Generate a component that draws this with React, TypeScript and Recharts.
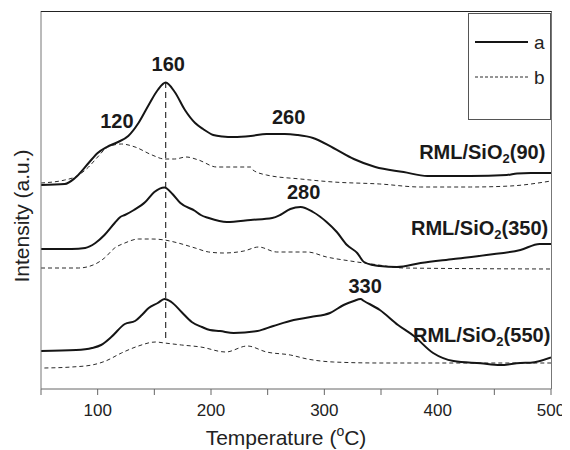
import React from 'react';
import { LineChart, Line, XAxis, YAxis, ReferenceLine, ReferenceDot } from 'recharts';

// [temperature °C, intensity (a.u.)]
const curveA90: number[][] = [
  [50, 204], [71, 205], [80, 211], [92, 226], [100, 236], [108, 242], [118, 247], [127, 253],
  [136, 266], [145, 284], [153, 299], [160, 306.5], [168, 297], [177, 279], [186, 266], [193, 260],
  [202, 254], [210, 252.5], [220, 252], [235, 253], [249, 255], [265, 255], [276, 254], [290, 251],
  [308, 241], [326, 230], [345, 222], [370, 217], [391, 213], [429, 213], [461, 214], [470, 215.5],
  [482, 216], [500, 216],
];
const curveB90: number[][] = [
  [50, 206], [71, 209], [80, 212], [92, 222], [100, 232], [109, 242], [121, 245], [133, 242],
  [148, 234], [159, 230], [168, 230], [178, 232], [189, 229], [205, 222], [235, 222], [237, 219],
  [249, 214], [279, 210], [308, 207], [349, 205], [385, 202], [429, 202], [464, 203], [500, 208],
];
const curveA350: number[][] = [
  [50, 140], [77, 140], [89, 141], [98, 146], [106, 154], [115, 166], [120, 172], [124, 174],
  [132, 179], [142, 187], [150, 197], [159, 201.5], [166, 195], [173, 186], [186, 178], [191, 174],
  [198, 171], [214, 167], [235, 169], [254, 171], [261, 174], [270, 180], [279, 182], [290, 177],
  [302, 167], [311, 157], [320, 144], [329, 136], [335, 127], [343, 124], [349, 123], [364, 122],
  [385, 126], [414, 130], [443, 134], [473, 139], [490, 145], [500, 145],
];
const curveB350: number[][] = [
  [50, 121], [83, 121], [98, 125], [106, 131], [115, 141], [124, 146], [136, 150], [148, 150],
  [159, 149], [171, 146], [186, 141], [198, 137], [211, 136], [229, 138], [242, 142], [258, 137],
  [285, 137], [302, 132], [323, 128], [345, 124.5], [370, 121], [500, 120],
];
const curveA550: number[][] = [
  [50, 38], [81, 39], [95, 41], [103, 44], [112, 52], [124, 65], [133, 68], [139, 74], [145, 81],
  [153, 86], [159, 90], [165, 87], [174, 77], [183, 67], [192, 62], [199, 59], [208, 58], [220, 56],
  [241, 58], [255, 63], [273, 69], [288, 72], [305, 76], [317, 84], [326, 88], [332, 90], [335, 88],
  [349, 79], [365, 64], [379, 53], [396, 36], [414, 28], [438, 25.7], [455, 24], [473, 26],
  [482, 26.3], [500, 31.5],
];
const curveB550: number[][] = [
  [53, 21], [77, 22], [95, 24], [107, 28], [121, 36], [136, 43], [151, 47], [159, 46], [174, 44],
  [191, 42], [213, 37], [232, 43], [249, 37], [270, 34], [285, 30], [308, 27], [349, 26], [500, 26],
];

const xTicks = [50, 100, 150, 200, 250, 300, 350, 400, 450, 500];
const peakLabels = [
  { t: 162.3, v: 325, text: '160' },
  { t: 117, v: 268, text: '120' },
  { t: 268.5, v: 272, text: '260' },
  { t: 281.7, v: 197, text: '280' },
  { t: 336, v: 103, text: '330' },
];
const sampleLabels = [
  { t: 495, v: 237, name: '90' },
  { t: 497.6, v: 161, name: '350' },
  { t: 499.4, v: 54, name: '550' },
];
const legendNames = ['a', 'b'];
const xDomain = [50, 500];
const yDomain = [0, 378];

const toData = (arr: number[][]) => arr.map(([t, v]) => ({ t, v }));

const FONT = '"Liberation Sans", Arial, Helvetica, sans-serif';

export default function App() {
  const solid = '#151515';
  const dashed = '#2a2a2a';
  return (
    <div style={{ position: 'relative', width: 562, height: 442, fontFamily: FONT }}>
      <LineChart width={562} height={442} margin={{ top: 3, right: 19, left: 0, bottom: 0 }}>
        <XAxis
          dataKey="t"
          type="number"
          domain={xDomain}
          ticks={xTicks}
          allowDataOverflow
          height={61}
          tickSize={6}
          tickMargin={9}
          stroke="#666"
          tick={{ fill: '#222', fontSize: 17, fontFamily: FONT }}
          tickFormatter={(v: number) => (v % 100 === 0 ? String(v) : '')}
          label={{
            content: (p: any) => {
              const vb = p.viewBox || { x: 33, y: 381, width: 510, height: 61 };
              return (
                <text x={vb.x + vb.width / 2 - 10} y={vb.y + 56} textAnchor="middle" fontSize={21} fill="#222" fontFamily={FONT}>
                  <tspan>Temperature (</tspan>
                  <tspan fontSize={14} dy={-9}>o</tspan>
                  <tspan dy={9}>C)</tspan>
                </text>
              );
            },
          }}
        />
        <YAxis
          type="number"
          domain={yDomain}
          allowDataOverflow
          width={33}
          tick={false}
          tickLine={false}
          stroke="#777"
          label={{
            content: (p: any) => {
              const vb = p.viewBox || { x: 0, y: 3, width: 33, height: 378 };
              const cx = vb.x + 21;
              const cy = vb.y + vb.height / 2 + 16;
              return (
                <text x={cx} y={cy} transform={`rotate(-90, ${cx}, ${cy})`} textAnchor="middle" fontSize={21} fill="#222" fontFamily={FONT}>
                  Intensity (a.u.)
                </text>
              );
            },
          }}
        />

        <ReferenceLine
          segment={[{ x: 160, y: 51 }, { x: 160, y: 307 }]}
          stroke="#333"
          strokeWidth={1.2}
          strokeDasharray="6 4"
          ifOverflow="visible"
        />

        <Line data={toData(curveB90)} dataKey="v" type="monotone" stroke={dashed} strokeWidth={1} strokeDasharray="4 3" dot={false} isAnimationActive={false} />
        <Line data={toData(curveB350)} dataKey="v" type="monotone" stroke={dashed} strokeWidth={1} strokeDasharray="4 3" dot={false} isAnimationActive={false} />
        <Line data={toData(curveB550)} dataKey="v" type="monotone" stroke={dashed} strokeWidth={1} strokeDasharray="4 3" dot={false} isAnimationActive={false} />
        <Line data={toData(curveA90)} dataKey="v" type="monotone" stroke={solid} strokeWidth={2} dot={false} isAnimationActive={false} />
        <Line data={toData(curveA350)} dataKey="v" type="monotone" stroke={solid} strokeWidth={2} dot={false} isAnimationActive={false} />
        <Line data={toData(curveA550)} dataKey="v" type="monotone" stroke={solid} strokeWidth={2} dot={false} isAnimationActive={false} />

        {peakLabels.map((l) => (
          <ReferenceDot
            key={l.text}
            x={l.t}
            y={l.v}
            r={0}
            ifOverflow="visible"
            shape={(p: any) => (
              <text x={p.cx} y={p.cy} textAnchor="middle" dominantBaseline="central" fontSize={20} fontWeight="bold" fill="#1a1a1a" fontFamily={FONT}>
                {l.text}
              </text>
            )}
          />
        ))}
        {sampleLabels.map((l) => (
          <ReferenceDot
            key={l.name}
            x={l.t}
            y={l.v}
            r={0}
            ifOverflow="visible"
            shape={(p: any) => (
              <text x={p.cx} y={p.cy} textAnchor="end" dominantBaseline="central" fontSize={20} fontWeight="bold" fill="#1a1a1a" fontFamily={FONT}>
                <tspan>RML/SiO</tspan>
                <tspan fontSize={13} dy={6}>2</tspan>
                <tspan dy={-6}>({l.name})</tspan>
              </text>
            )}
          />
        ))}
      </LineChart>
      {/* plot frame: top and right borders */}
      <div
        style={{
          position: 'absolute',
          left: 33,
          top: 3,
          width: 511,
          height: 378,
          boxSizing: 'border-box',
          borderTop: '1px solid #222',
          borderRight: '1px solid #777',
          pointerEvents: 'none',
        }}
      />
      <div
        style={{
          position: 'absolute',
          left: 460,
          top: 5,
          width: 83,
          height: 107,
          boxSizing: 'border-box',
          border: '1px solid #555',
          background: '#fff',
        }}
      >
        <svg width={81} height={105}>
          {legendNames.map((n, i) => (
            <g key={n}>
              <line
                x1={6}
                x2={59}
                y1={28 + i * 35}
                y2={28 + i * 35}
                stroke={i === 0 ? solid : dashed}
                strokeWidth={i === 0 ? 2 : 1}
                strokeDasharray={i === 0 ? undefined : '3 2'}
              />
              <text x={65} y={28 + i * 35} dominantBaseline="central" fontSize={19} fill="#222" fontFamily={FONT}>
                {n}
              </text>
            </g>
          ))}
        </svg>
      </div>
    </div>
  );
}
